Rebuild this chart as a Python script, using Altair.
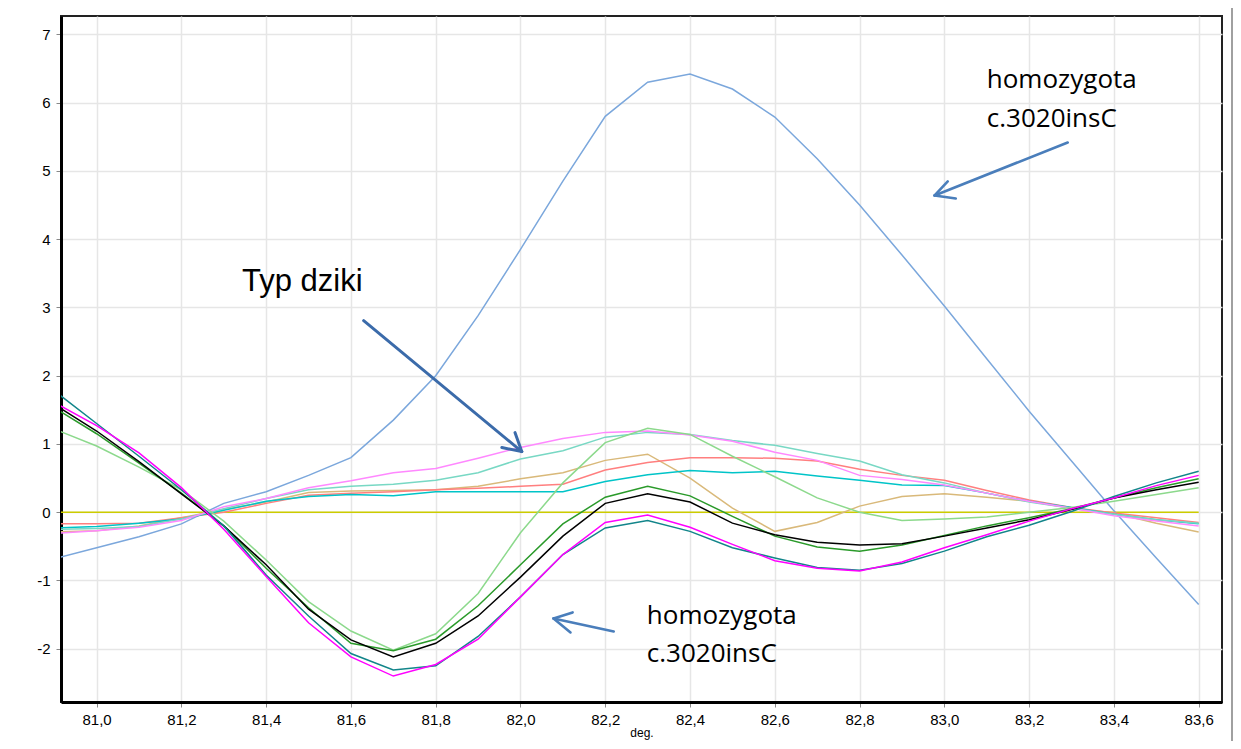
import altair as alt
import pandas as pd

deg = [80.9, 81.0, 81.1, 81.2, 81.3, 81.4, 81.5, 81.6, 81.7, 81.8, 81.9, 82.0, 82.1, 82.2,
       82.3, 82.4, 82.5, 82.6, 82.7, 82.8, 82.9, 83.0, 83.1, 83.2, 83.3, 83.4, 83.5, 83.6]

blue = [-0.68, -0.52, -0.36, -0.17, 0.13, 0.30, 0.54, 0.80, 1.35, 2.00, 2.88, 3.85, 4.85, 5.80,
        6.30, 6.42, 6.20, 5.79, 5.18, 4.50, 3.77, 3.02, 2.25, 1.48, 0.75, 0.02, -0.67, -1.35]
yellow = [0.0, 0.0, 0.0, 0.0, 0.0, 0.0, 0.0, 0.0, 0.0, 0.0, 0.0, 0.0, 0.0, 0.0,
          0.0, 0.0, 0.0, 0.0, 0.0, 0.0, 0.0, 0.0, 0.0, 0.0, 0.0, 0.0, 0.0, 0.0]
teal = [1.78, 1.30, 0.82, 0.33, -0.20, -0.92, -1.52, -2.07, -2.31, -2.25, -1.82, -1.24, -0.62, -0.23,
        -0.12, -0.28, -0.52, -0.67, -0.81, -0.85, -0.75, -0.57, -0.36, -0.19, 0.01, 0.23, 0.43, 0.60]
magenta = [1.61, 1.27, 0.87, 0.36, -0.25, -0.94, -1.62, -2.12, -2.40, -2.23, -1.86, -1.24, -0.62, -0.15,
           -0.04, -0.22, -0.47, -0.71, -0.82, -0.86, -0.73, -0.52, -0.33, -0.13, 0.05, 0.21, 0.39, 0.54]
black = [1.58, 1.19, 0.74, 0.27, -0.20, -0.77, -1.42, -1.87, -2.12, -1.92, -1.52, -0.95, -0.35, 0.13,
         0.27, 0.15, -0.16, -0.33, -0.44, -0.48, -0.46, -0.35, -0.23, -0.11, 0.04, 0.21, 0.33, 0.44]
dgreen = [1.53, 1.15, 0.72, 0.28, -0.20, -0.82, -1.40, -1.92, -2.03, -1.86, -1.37, -0.77, -0.17, 0.22,
          0.38, 0.24, -0.06, -0.35, -0.51, -0.57, -0.48, -0.34, -0.20, -0.08, 0.05, 0.21, 0.36, 0.49]
lgreen = [1.22, 0.97, 0.66, 0.33, -0.13, -0.70, -1.31, -1.74, -2.02, -1.78, -1.19, -0.30, 0.43, 1.02,
          1.23, 1.14, 0.82, 0.52, 0.21, 0.00, -0.12, -0.10, -0.07, 0.00, 0.07, 0.16, 0.26, 0.36]
pink = [-0.31, -0.27, -0.22, -0.12, 0.08, 0.20, 0.36, 0.46, 0.58, 0.64, 0.79, 0.95, 1.08, 1.17,
        1.19, 1.13, 1.04, 0.88, 0.76, 0.54, 0.48, 0.40, 0.28, 0.16, 0.06, -0.05, -0.13, -0.20]
aqua = [-0.25, -0.24, -0.21, -0.10, 0.05, 0.20, 0.33, 0.38, 0.41, 0.47, 0.58, 0.78, 0.90, 1.10,
        1.17, 1.14, 1.05, 0.98, 0.86, 0.75, 0.55, 0.43, 0.28, 0.15, 0.06, -0.03, -0.11, -0.16]
salmon = [-0.17, -0.17, -0.16, -0.08, 0.00, 0.13, 0.25, 0.28, 0.30, 0.33, 0.35, 0.38, 0.41, 0.62,
          0.73, 0.80, 0.80, 0.79, 0.75, 0.63, 0.54, 0.47, 0.32, 0.18, 0.07, -0.01, -0.08, -0.15]
tan = [-0.29, -0.27, -0.20, -0.08, 0.04, 0.15, 0.29, 0.31, 0.32, 0.33, 0.38, 0.49, 0.58, 0.76,
       0.85, 0.50, 0.06, -0.28, -0.15, 0.09, 0.23, 0.27, 0.22, 0.16, 0.06, -0.01, -0.16, -0.29]
cyan = [-0.23, -0.21, -0.16, -0.10, 0.03, 0.16, 0.23, 0.26, 0.24, 0.30, 0.30, 0.30, 0.30, 0.45,
        0.55, 0.61, 0.58, 0.60, 0.53, 0.47, 0.40, 0.39, 0.28, 0.16, 0.07, -0.03, -0.11, -0.17]

series_names = ["yellow", "blue", "tan", "salmon", "cyan", "aqua", "pink", "lgreen",
                "dgreen", "black", "teal", "magenta"]
series_values = [yellow, blue, tan, salmon, cyan, aqua, pink, lgreen, dgreen, black, teal, magenta]
series_colors = ["#CCCC00", "#7BA7DC", "#D9B97A", "#FF7F7F", "#00C4C8", "#78D8C4", "#FF88FF",
                 "#8CD98C", "#2A9A2A", "#000000", "#12858A", "#FF00FF"]

x_ticks = [81.0, 81.2, 81.4, 81.6, 81.8, 82.0, 82.2, 82.4, 82.6, 82.8, 83.0, 83.2, 83.4, 83.6]
y_ticks = [-2, -1, 0, 1, 2, 3, 4, 5, 6, 7]

# annotation texts (data coordinates: left x, baseline y)
label_text = ["Typ dziki", "homozygota", "c.3020insC", "homozygota", "c.3020insC"]
label_x = [81.343, 83.100, 83.100, 82.298, 82.298]
label_y = [3.246, 6.218, 5.647, -1.644, -2.201]
label_font = ["Liberation Sans", "Open Sans", "Open Sans", "Open Sans", "Open Sans"]
label_size = [31, 26, 26, 26, 26]

# arrow strokes (data coordinates)
arrow_x = [83.291, 82.977, 82.977, 81.630, 82.003, 82.003, 82.220, 82.078, 82.078]
arrow_y = [5.417, 4.641, 4.641, 2.807, 0.889, 0.889, -1.747, -1.556, -1.556]
arrow_x2 = [82.977, 83.008, 83.027, 82.003, 81.987, 81.956, 82.078, 82.123, 82.118]
arrow_y2 = [4.641, 4.846, 4.597, 0.889, 1.167, 0.948, -1.556, -1.468, -1.761]
arrow_group = ["a", "a", "a", "b", "b", "b", "a", "a", "a"]

rows = []
for name, vals in zip(series_names, series_values):
    for d, v in zip(deg, vals):
        rows.append({"deg": d, "val": v, "series": name})
df = pd.DataFrame(rows)

df_text = pd.DataFrame({"deg": label_x, "val": label_y, "txt": label_text,
                        "font": label_font, "size": label_size})
df_arrow = pd.DataFrame({"deg": arrow_x, "val": arrow_y, "deg2": arrow_x2, "val2": arrow_y2,
                         "grp": arrow_group})

X = alt.X("deg:Q",
          scale=alt.Scale(domain=[80.916, 83.655], nice=False, zero=False),
          axis=alt.Axis(values=x_ticks,
                        labelExpr="replace(format(datum.value, '.1f'), '.', ',')",
                        title="deg.", titleFontSize=12, titleFont="Liberation Sans",
                        titleFontWeight="normal", titleColor="#000000", titlePadding=0,
                        labelPadding=5))
Y = alt.Y("val:Q",
          scale=alt.Scale(domain=[-2.78, 7.27], nice=False, zero=False),
          axis=alt.Axis(values=y_ticks, title=None, labelPadding=6,
                        labelExpr="datum.value < 0 ? '-' + abs(datum.value) : '' + datum.value"))

lines = alt.Chart(df).mark_line(strokeWidth=1.5, clip=True).encode(
    x=X, y=Y,
    color=alt.Color("series:N", scale=alt.Scale(domain=series_names, range=series_colors),
                    legend=None),
    order=alt.Order("deg:Q"),
)

arrows_a = alt.Chart(df_arrow[df_arrow.grp == "a"]).mark_rule(
    strokeWidth=2.6, strokeCap="round", color="#4A7EBB").encode(
    x=X, y=Y, x2="deg2:Q", y2="val2:Q")
arrows_b = alt.Chart(df_arrow[df_arrow.grp == "b"]).mark_rule(
    strokeWidth=3, strokeCap="round", color="#3B6BAA").encode(
    x=X, y=Y, x2="deg2:Q", y2="val2:Q")

texts = [
    alt.Chart(df_text.iloc[[i]]).mark_text(
        align="left", baseline="alphabetic", font=label_font[i], fontSize=label_size[i],
        color="#000000").encode(x=X, y=Y, text="txt:N")
    for i in range(len(label_text))
]

frame_line = alt.Chart(df_text.iloc[[0]]).mark_rule(color="#A0A0A0", strokeWidth=2, clip=False).encode(
    x=alt.value(1171), y=alt.value(-12), y2=alt.value(733))

chart = alt.layer(lines, arrows_a, arrows_b, *texts, frame_line).properties(
    width=1161, height=686,
    autosize=alt.AutoSizeParams(type="none"),
    padding={"left": 53, "top": 8, "right": 11, "bottom": 39},
    background="#ffffff",
).configure_view(
    stroke="#222222", strokeWidth=2
).configure_axis(
    grid=True, gridColor="#E6E6E6", gridWidth=1.5,
    domainColor="#000000", domainWidth=3,
    tickColor="#888888", tickSize=5, tickWidth=1,
    labelFont="Liberation Sans", labelFontSize=15, labelColor="#000000",
)

chart.save("out.html", embed_options={"renderer": "svg", "actions": False})
